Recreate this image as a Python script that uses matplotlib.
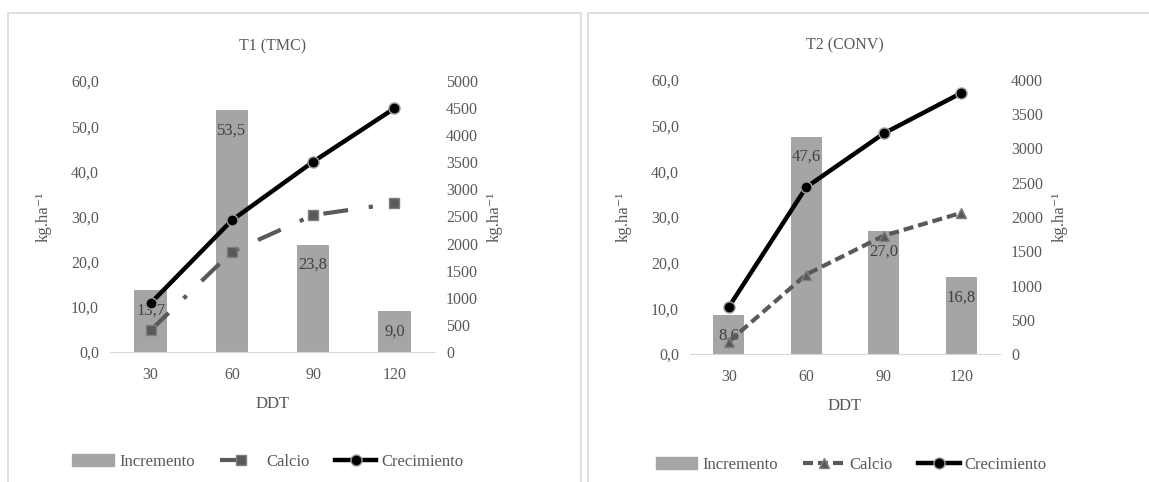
import matplotlib.pyplot as plt
from matplotlib.ticker import FuncFormatter, MultipleLocator
from matplotlib.lines import Line2D
from matplotlib.patches import Patch, Rectangle

plt.rcParams['font.family'] = ['Liberation Serif', 'DejaVu Serif']
plt.rcParams['font.size'] = 11

ddt = ['30', '60', '90', '120']

# T1 (TMC)
incr_t1 = [13.7, 53.5, 23.8, 9.0]
calcio_t1 = [4.8, 22.2, 30.3, 32.9]
crec_t1 = [900, 2430, 3510, 4495]

# T2 (CONV)
incr_t2 = [8.6, 47.6, 27.0, 16.8]
calcio_t2 = [2.7, 17.4, 25.9, 30.9]
crec_t2 = [685, 2435, 3220, 3810]

gris_txt = '#595959'
gris_barra = '#a5a5a5'
gris_eje = '#d9d9d9'

coma = FuncFormatter(lambda v, p: f'{v:.1f}'.replace('.', ','))


def panel(fig, rect, titulo, incr, calcio, crec, ymax2, estilo_ca, marca_ca, x_ley):
    ax = fig.add_axes(rect)
    ax2 = ax.twinx()
    x = range(len(ddt))

    barras = ax.bar(x, incr, width=0.4, color=gris_barra, zorder=1)
    for b, v in zip(barras, incr):
        ax.annotate(f'{v:.1f}'.replace('.', ','), (b.get_x() + b.get_width() / 2, v),
                    xytext=(0, -9), textcoords='offset points', ha='center', va='top',
                    color='#404040', fontsize=12)

    ax.plot(x, calcio, color=gris_txt, lw=3, dashes=estilo_ca, marker=marca_ca,
            ms=7, mfc=gris_txt, mec='#7f7f7f', zorder=3)
    # crecimiento en el eje secundario, queda por encima de las barras
    ax2.plot(x, crec, color='black', lw=3.2, marker='o', ms=8,
             mfc='black', mec='#a0a0a0', mew=1)

    ax.set_xlim(-0.5, 3.5)
    ax.set_ylim(0, 60)
    ax.yaxis.set_major_locator(MultipleLocator(10))
    ax.yaxis.set_major_formatter(coma)
    ax2.set_ylim(0, ymax2)
    ax2.yaxis.set_major_locator(MultipleLocator(500))
    ax.set_xticks(list(x), ddt)

    for a in (ax, ax2):
        for s in a.spines.values():
            s.set_visible(False)
        a.tick_params(length=0, colors=gris_txt, labelsize=11.5, pad=8)
    ax.spines['bottom'].set_visible(True)
    ax.spines['bottom'].set_color(gris_eje)
    ax.tick_params(axis='x', pad=11)

    ax.set_title(titulo, color=gris_txt, fontsize=11.5, pad=22)
    ax.set_xlabel('DDT', color=gris_txt, fontsize=12, labelpad=9)
    ax.set_ylabel('kg.ha\u207b\u00b9', color=gris_txt, fontsize=12, labelpad=14)
    ax2.set_ylabel('kg.ha\u207b\u00b9', color=gris_txt, fontsize=12, labelpad=6)

    handles = [
        Patch(color=gris_barra),
        Line2D([], [], color=gris_txt, lw=3, dashes=estilo_ca, marker=marca_ca, ms=7,
               mfc=gris_txt, mec='#7f7f7f'),
        Line2D([], [], color='black', lw=3.2, marker='o', ms=8, mfc='black', mec='#a0a0a0'),
    ]
    leg = ax.legend(handles, ['Incremento', 'Calcio', 'Crecimiento'], ncol=3,
                    loc='center', bbox_to_anchor=(x_ley, -0.405), frameon=False,
                    fontsize=12, handlelength=2.5, handletextpad=0.3, columnspacing=1.5)
    for t in leg.get_texts():
        t.set_color(gris_txt)
    return ax


fig = plt.figure(figsize=(11.49, 4.82), dpi=100)

# marcos de cada gráfico
fig.add_artist(Rectangle((8 / 1149, -0.1), 573 / 1149, 1.1 - 13 / 482,
                         transform=fig.transFigure, fill=False, ec=gris_eje, lw=1.2))
fig.add_artist(Rectangle((588 / 1149, -0.1), 0.6, 1.1 - 13 / 482,
                         transform=fig.transFigure, fill=False, ec=gris_eje, lw=1.2))

panel(fig, [110 / 1149, 130 / 482, 325 / 1149, 271 / 482], 'T1 (TMC)',
      incr_t1, calcio_t1, crec_t1, 5000, (6, 5, 1, 5), 's', 0.486)
panel(fig, [690 / 1149, 128 / 482, 310 / 1149, 274 / 482], 'T2 (CONV)',
      incr_t2, calcio_t2, crec_t2, 4000, (2.4, 1.2), '^', 0.52)

fig.savefig('out.png', dpi=100)
